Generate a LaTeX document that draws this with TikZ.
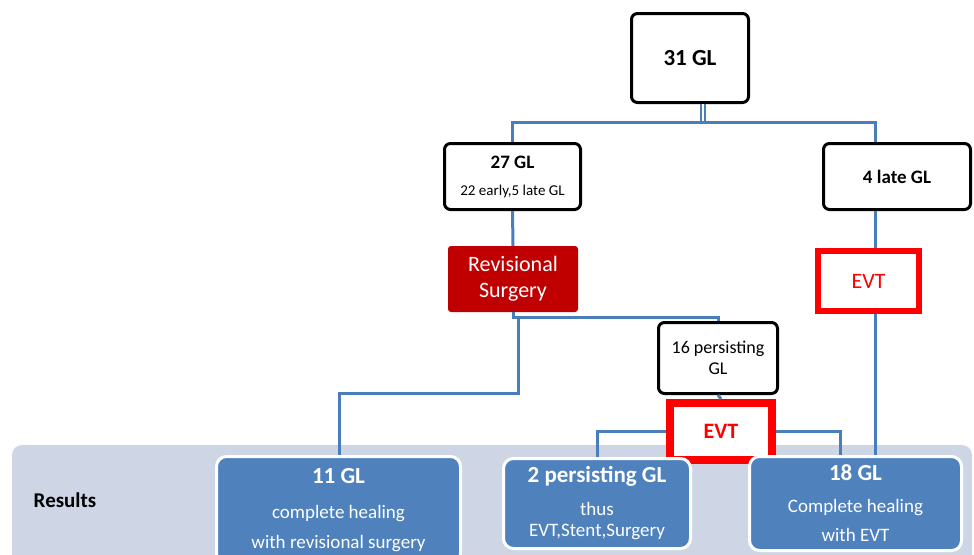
\documentclass[tikz,border=0pt]{standalone}
\usepackage{fontspec}
\setmainfont{Carlito}
\usetikzlibrary{positioning, shadows, calc}

\definecolor{linkblue}{RGB}{74,126,187}
\definecolor{surgred}{RGB}{192,0,0}
\definecolor{evtred}{RGB}{255,0,0}
\definecolor{resblue}{RGB}{79,129,189}
\definecolor{bandblue}{RGB}{206,214,230}

\tikzset{
  glbox/.style={draw, line width=3pt, rounded corners=6pt, fill=white, align=center, inner sep=0pt},
  surgbox/.style={fill=surgred, rounded corners=3pt, text=white, align=center, inner sep=0pt},
  evtbox/.style={draw=evtred, line width=6pt, fill=white, text=evtred, align=center, inner sep=0pt},
  resbox/.style={draw=white, line width=3pt, fill=resblue, rounded corners=10pt, text=white, align=center, inner sep=0pt},
  link/.style={draw=linkblue, line width=3pt},
}

\begin{document}
\begin{tikzpicture}[x=1pt, y=-1pt]
\useasboundingbox (0,0) rectangle (974,554);
% results band
\fill[bandblue, rounded corners=10pt] (12,445) rectangle (972,590);
\node[font=\bfseries\fontsize{21}{24}\selectfont] (restitle) at (65,500) {Results};

% tree boxes
\node[glbox, minimum width=117, minimum height=89, font=\bfseries\fontsize{23}{28}\selectfont] (top) at (690,58) {31 GL};
\node[glbox, minimum width=136, minimum height=66, font=\fontsize{15}{27}\selectfont] (n27) at (512.5,176.5) {{\bfseries\fontsize{19}{23}\selectfont 27 GL}\\ 22 early,5 late GL};
\node[glbox, minimum width=147, minimum height=66, font=\bfseries\fontsize{19}{23}\selectfont] (n4) at (897,176.5) {4 late GL};
\node[surgbox, minimum width=130, minimum height=66, font=\fontsize{22}{26}\selectfont] (surg) at (513,279) {Revisional\\ Surgery};
\node[evtbox, minimum width=101, minimum height=60, font=\fontsize{22}{26}\selectfont] (evtR) at (868.5,281) {EVT};
\node[glbox, minimum width=119, minimum height=71, font=\fontsize{18}{21}\selectfont] (n16) at (718,358) {16 persisting\\ GL};
\node[evtbox, line width=8pt, minimum width=102, minimum height=57, drop shadow={shadow xshift=2pt, shadow yshift=-2pt, opacity=0.35}, font=\bfseries\fontsize{22}{26}\selectfont] (evtM) at (721,431.5) {EVT};

% result boxes
\node[resbox, minimum width=244, minimum height=107, font=\fontsize{19}{30}\selectfont] (r11) at (338.5,510) {{\bfseries\fontsize{23}{28}\selectfont 11 GL}\\[5pt] complete healing\\ with revisional surgery};
\node[resbox, minimum width=187, minimum height=90, font=\fontsize{19}{21}\selectfont] (r2) at (597,503.5) {{\bfseries\fontsize{23}{28}\selectfont 2 persisting GL}\\[12pt] thus\\ EVT,Stent,Surgery};
\node[resbox, minimum width=212, minimum height=94, font=\fontsize{19}{29}\selectfont] (r18) at (855.5,503.5) {{\bfseries\fontsize{23}{28}\selectfont 18 GL}\\[3pt] Complete healing\\ with EVT};

% connectors
\coordinate (split) at (703,122);
\coordinate (colR) at (875,0);
\coordinate (colM) at (840,0);
\coordinate (surgbus) at ($(surg.south)+(0,5)$);
\coordinate (colL) at (339,393);
\draw[link, line width=2pt, double=white, double distance=1.5pt] (split |- top.south) -- (split);
\draw[link] (n27.north) |- (split) -| (n4.north -| colR);
\draw[link] (n27.south) -- (surg.north);
\draw[link] (n4.south -| colR) -- (evtR.north -| colR);
\draw[link] (evtR.south -| colR) -- (r18.north -| colR);
\draw[link] (surg.south) -- (surgbus) -| (n16.north);
\draw[link] ($(surgbus)+(5,0)$) |- (colL) -- (colL |- r11.north);
\draw[link] (n16.south) -- (evtM.north);
\draw[link] (evtM.west) -| (r2.north);
\draw[link] (evtM.east) -| (r18.north -| colM);
\end{tikzpicture}
\end{document}
